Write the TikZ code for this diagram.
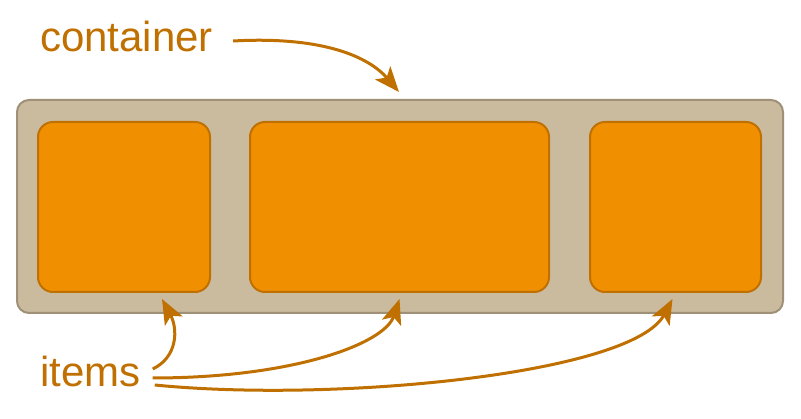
\documentclass[tikz,border=0pt]{standalone}
\usepackage{fontspec}
\setmainfont{Liberation Sans}
\usetikzlibrary{arrows.meta}
\definecolor{boxfill}{HTML}{CABB9F}
\definecolor{boxline}{HTML}{9E9178}
\definecolor{itemfill}{HTML}{F09000}
\definecolor{itemline}{HTML}{C07000}
\definecolor{note}{HTML}{BF7000}
\begin{document}
\begin{tikzpicture}[
  x=1pt, y=-1pt,
  box/.style={draw=boxline, fill=boxfill, line width=2pt, rounded corners=12pt, minimum width=766pt, minimum height=213pt, inner sep=0pt},
  item/.style={draw=itemline, fill=itemfill, line width=2pt, rounded corners=15pt, minimum height=170pt, inner sep=0pt},
  lbl/.style={text=note, font=\fontsize{42}{48}\selectfont, inner sep=0pt, anchor=base west},
  arrow/.style={-{Stealth[length=25pt,width=20pt,inset=6pt]}, draw=note, line width=3pt}
]
\useasboundingbox (0,0) rectangle (801,419);
\node[box] (cont) at (400,206.5) {};
\node[item, minimum width=172pt] (itemA) at (124,207) {};
\node[item, minimum width=299pt] (itemB) at (399.5,207) {};
\node[item, minimum width=171pt] (itemC) at (675.5,207) {};
\node[lbl] (lblcont) at (40,52) {container};
\node[lbl] (lblitems) at (40,387) {items};

\draw[arrow] ([xshift=20pt,yshift=-4pt]lblcont.east) .. controls +(90,-5) and +(-30,-35) .. ([xshift=-1pt,yshift=7pt]cont.north);
\draw[arrow] ([xshift=12pt,yshift=3pt]lblitems.east) .. controls +(25,-12) and +(16,30) .. ([xshift=38pt,yshift=-6pt]itemA.south);
\draw[arrow] ([xshift=12pt,yshift=-6pt]lblitems.east) .. controls +(140,0) and +(-15,45) .. ([yshift=-6pt]itemB.south);
\draw[arrow] ([xshift=14pt,yshift=-13pt]lblitems.east) .. controls +(180,18) and +(-40,75) .. ([xshift=-3pt,yshift=-6pt]itemC.south);
\end{tikzpicture}
\end{document}
